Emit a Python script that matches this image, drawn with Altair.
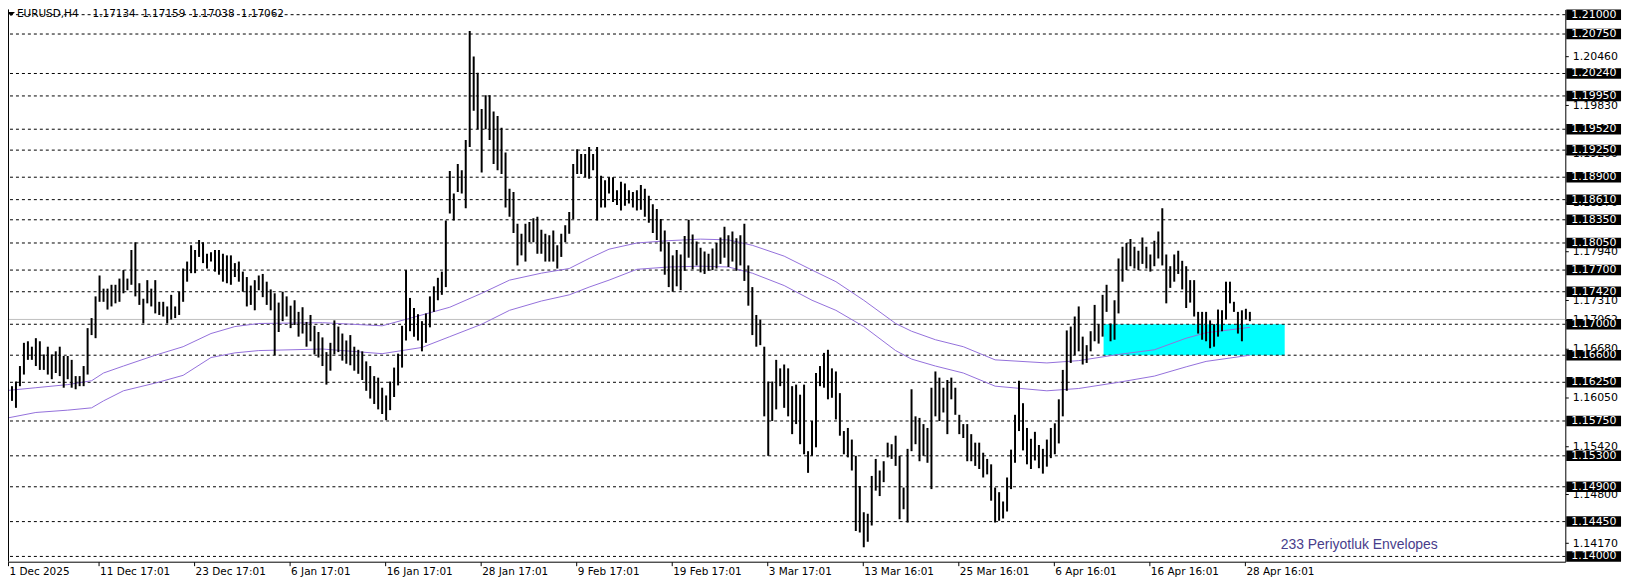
import json
import altair as alt
import pandas as pd

# ---------------- data ----------------
# each entry = one pair of H4 bars (high / low)
highs = [
    1.1646, 1.1618, 1.1620, 1.1626, 1.1646, 1.1676, 1.1678, 1.1671, 1.1682, 1.1678,
    1.1661, 1.1671, 1.1661, 1.1665, 1.1671, 1.1659, 1.1659, 1.1654, 1.1633, 1.1633,
    1.1646, 1.1695, 1.1708, 1.1736, 1.1763, 1.1746, 1.1746, 1.1751, 1.1751, 1.1759,
    1.1770, 1.1759, 1.1796, 1.1806, 1.1753, 1.1733, 1.1757, 1.1746, 1.1757, 1.1729,
    1.1729, 1.1723, 1.1738, 1.1723, 1.1742, 1.1772, 1.1781, 1.1802, 1.1796, 1.1809,
    1.1806, 1.1791, 1.1793, 1.1796, 1.1796, 1.1791, 1.1789, 1.1789, 1.1779, 1.1781,
    1.1768, 1.1761, 1.1750, 1.1757, 1.1763, 1.1765, 1.1755, 1.1745, 1.1740, 1.1728,
    1.1742, 1.1736, 1.1724, 1.1731, 1.1716, 1.1722, 1.1703, 1.1712, 1.1698, 1.1690,
    1.1683, 1.1664, 1.1676, 1.1705, 1.1697, 1.1688, 1.1679, 1.1686, 1.1671, 1.1667,
    1.1665, 1.1652, 1.1646, 1.1633, 1.1631, 1.1618, 1.1608, 1.1626, 1.1644, 1.1662,
    1.1698, 1.1770, 1.1734, 1.1721, 1.1713, 1.1704, 1.1714, 1.1736, 1.1749, 1.1760,
    1.1768, 1.1834, 1.1898, 1.1869, 1.1907, 1.1899, 1.1938, 1.2079, 1.2046, 1.2025,
    1.1978, 1.1996, 1.1996, 1.1975, 1.1969, 1.1954, 1.1922, 1.1875, 1.1871, 1.1830,
    1.1817, 1.1830, 1.1832, 1.1837, 1.1839, 1.1822, 1.1817, 1.1815, 1.1821, 1.1802,
    1.1817, 1.1828, 1.1845, 1.1907, 1.1926, 1.1920, 1.1920, 1.1929, 1.1920, 1.1929,
    1.1892, 1.1886, 1.1890, 1.1890, 1.1873, 1.1884, 1.1882, 1.1873, 1.1871, 1.1873,
    1.1880, 1.1875, 1.1866, 1.1855, 1.1849, 1.1836, 1.1821, 1.1806, 1.1789, 1.1796,
    1.1790, 1.1814, 1.1835, 1.1816, 1.1807, 1.1799, 1.1794, 1.1791, 1.1798, 1.1805,
    1.1812, 1.1826, 1.1815, 1.1820, 1.1811, 1.1815, 1.1830, 1.1776, 1.1748, 1.1712,
    1.1706, 1.1671, 1.1626, 1.1626, 1.1654, 1.1643, 1.1648, 1.1643, 1.1620, 1.1622,
    1.1609, 1.1622, 1.1536, 1.1575, 1.1637, 1.1646, 1.1663, 1.1667, 1.1643, 1.1639,
    1.1611, 1.1562, 1.1566, 1.1551, 1.1530, 1.1491, 1.1457, 1.1455, 1.1504, 1.1526,
    1.1511, 1.1523, 1.1547, 1.1545, 1.1556, 1.1530, 1.1489, 1.1539, 1.1616, 1.1581,
    1.1579, 1.1571, 1.1566, 1.1618, 1.1639, 1.1631, 1.1618, 1.1628, 1.1631, 1.1618,
    1.1583, 1.1571, 1.1571, 1.1558, 1.1547, 1.1547, 1.1534, 1.1526, 1.1519, 1.1489,
    1.1483, 1.1471, 1.1502, 1.1538, 1.1583, 1.1627, 1.1598, 1.1566, 1.1552, 1.1561,
    1.1544, 1.1539, 1.1551, 1.1566, 1.1572, 1.1603, 1.1641, 1.1692, 1.1697, 1.1710,
    1.1723, 1.1684, 1.1673, 1.1691, 1.1725, 1.1700, 1.1738, 1.1751, 1.1701, 1.1731,
    1.1785, 1.1800, 1.1805, 1.1810, 1.1800, 1.1795, 1.1812, 1.1800, 1.1790, 1.1808,
    1.1820, 1.1850, 1.1790, 1.1775, 1.1790, 1.1795, 1.1782, 1.1775, 1.1757, 1.1757,
    1.1716, 1.1716, 1.1716, 1.1705, 1.1700, 1.1719, 1.1718, 1.1755, 1.1755, 1.1729,
    1.1716, 1.1718, 1.1720, 1.1716,
]
lows = [
    1.1607, 1.1603, 1.1601, 1.1592, 1.1620, 1.1635, 1.1654, 1.1654, 1.1646, 1.1641,
    1.1641, 1.1635, 1.1629, 1.1637, 1.1633, 1.1618, 1.1629, 1.1618, 1.1616, 1.1620,
    1.1620, 1.1635, 1.1686, 1.1682, 1.1729, 1.1729, 1.1719, 1.1723, 1.1727, 1.1729,
    1.1740, 1.1744, 1.1751, 1.1736, 1.1725, 1.1701, 1.1727, 1.1723, 1.1714, 1.1712,
    1.1710, 1.1701, 1.1706, 1.1708, 1.1712, 1.1729, 1.1755, 1.1766, 1.1766, 1.1787,
    1.1779, 1.1772, 1.1781, 1.1768, 1.1764, 1.1755, 1.1753, 1.1751, 1.1761, 1.1755,
    1.1742, 1.1723, 1.1725, 1.1718, 1.1744, 1.1735, 1.1725, 1.1718, 1.1660, 1.1690,
    1.1704, 1.1710, 1.1695, 1.1699, 1.1684, 1.1688, 1.1671, 1.1678, 1.1661, 1.1657,
    1.1646, 1.1622, 1.1640, 1.1661, 1.1664, 1.1653, 1.1649, 1.1647, 1.1640, 1.1636,
    1.1628, 1.1614, 1.1604, 1.1597, 1.1590, 1.1584, 1.1576, 1.1589, 1.1606, 1.1621,
    1.1644, 1.1679, 1.1691, 1.1684, 1.1679, 1.1665, 1.1676, 1.1696, 1.1716, 1.1731,
    1.1738, 1.1748, 1.1843, 1.1834, 1.1871, 1.1869, 1.1850, 1.1929, 1.1976, 1.1952,
    1.1896, 1.1952, 1.1938, 1.1907, 1.1899, 1.1894, 1.1851, 1.1839, 1.1818, 1.1776,
    1.1789, 1.1781, 1.1806, 1.1806, 1.1791, 1.1791, 1.1781, 1.1781, 1.1781, 1.1772,
    1.1787, 1.1806, 1.1817, 1.1836, 1.1894, 1.1894, 1.1890, 1.1888, 1.1899, 1.1834,
    1.1851, 1.1851, 1.1869, 1.1858, 1.1854, 1.1847, 1.1853, 1.1856, 1.1851, 1.1847,
    1.1848, 1.1839, 1.1831, 1.1818, 1.1809, 1.1794, 1.1764, 1.1748, 1.1742, 1.1749,
    1.1744, 1.1769, 1.1786, 1.1771, 1.1776, 1.1767, 1.1765, 1.1769, 1.1770, 1.1772,
    1.1778, 1.1786, 1.1774, 1.1781, 1.1769, 1.1776, 1.1756, 1.1724, 1.1686, 1.1671,
    1.1673, 1.1581, 1.1530, 1.1575, 1.1590, 1.1620, 1.1592, 1.1581, 1.1558, 1.1571,
    1.1545, 1.1532, 1.1508, 1.1530, 1.1541, 1.1620, 1.1618, 1.1603, 1.1605, 1.1577,
    1.1556, 1.1532, 1.1528, 1.1511, 1.1433, 1.1431, 1.1412, 1.1419, 1.1440, 1.1485,
    1.1478, 1.1496, 1.1528, 1.1526, 1.1517, 1.1448, 1.1461, 1.1444, 1.1536, 1.1545,
    1.1523, 1.1530, 1.1521, 1.1487, 1.1581, 1.1575, 1.1586, 1.1558, 1.1603, 1.1583,
    1.1558, 1.1553, 1.1523, 1.1523, 1.1517, 1.1513, 1.1502, 1.1506, 1.1472, 1.1444,
    1.1446, 1.1449, 1.1458, 1.1487, 1.1521, 1.1562, 1.1537, 1.1519, 1.1513, 1.1524,
    1.1514, 1.1507, 1.1516, 1.1527, 1.1532, 1.1546, 1.1581, 1.1614, 1.1650, 1.1660,
    1.1665, 1.1648, 1.1650, 1.1665, 1.1678, 1.1675, 1.1684, 1.1716, 1.1678, 1.1680,
    1.1714, 1.1755, 1.1770, 1.1775, 1.1772, 1.1770, 1.1778, 1.1772, 1.1768, 1.1775,
    1.1785, 1.1776, 1.1727, 1.1747, 1.1755, 1.1765, 1.1745, 1.1721, 1.1728, 1.1710,
    1.1688, 1.1680, 1.1678, 1.1669, 1.1671, 1.1684, 1.1691, 1.1706, 1.1727, 1.1716,
    1.1688, 1.1678, 1.1706, 1.1704,
]

# 233-period envelopes (bar index, upper, lower)
env_k = [0, 8, 16, 22, 25, 30, 38, 45, 52, 58, 64, 80, 95, 105, 112, 120, 127, 135, 142, 147,
         152, 159, 167, 175, 182, 188, 196, 203, 209, 216, 224, 228, 234, 241, 249, 262, 270,
         280, 289, 297, 302, 313]
env_up = [1.1614, 1.1618, 1.1622, 1.1627, 1.1637, 1.1646, 1.1660, 1.1671, 1.1688, 1.1697,
          1.1701, 1.1702, 1.1698, 1.1712, 1.1722, 1.1740, 1.1757, 1.1766, 1.1772, 1.1785,
          1.1797, 1.1805, 1.1808, 1.1810, 1.1809, 1.1802, 1.1788, 1.1770, 1.1755, 1.1731,
          1.1701, 1.1691, 1.1680, 1.1671, 1.1654, 1.1650, 1.1653, 1.1661, 1.1667, 1.1682,
          1.1689, 1.1696]
env_lo = [1.1578, 1.1586, 1.1589, 1.1592, 1.1601, 1.1614, 1.1624, 1.1634, 1.1657, 1.1663,
          1.1666, 1.1668, 1.1662, 1.1670, 1.1684, 1.1700, 1.1718, 1.1730, 1.1738, 1.1748,
          1.1757, 1.1771, 1.1774, 1.1775, 1.1774, 1.1766, 1.1750, 1.1731, 1.1718, 1.1697,
          1.1666, 1.1655, 1.1646, 1.1637, 1.1620, 1.1614, 1.1617, 1.1625, 1.1633, 1.1645,
          1.1652, 1.1660]

levels = [1.21000, 1.20750, 1.20240, 1.19950, 1.19520, 1.19250, 1.18900, 1.18610, 1.18350,
          1.18050, 1.17700, 1.17420, 1.17000, 1.16600, 1.16250, 1.15750, 1.15300, 1.14900,
          1.14450, 1.14000]
axis_prices = [1.20460, 1.19830, 1.19200, 1.18570, 1.17940, 1.17310, 1.17062, 1.16680,
               1.16050, 1.15420, 1.14800, 1.14170]
bid_price = 1.17062

date_labels = ["1 Dec 2025", "11 Dec 17:01", "23 Dec 17:01", "6 Jan 17:01", "16 Jan 17:01",
               "28 Jan 17:01", "9 Feb 17:01", "19 Feb 17:01", "3 Mar 17:01", "13 Mar 16:01",
               "25 Mar 16:01", "6 Apr 16:01", "16 Apr 16:01", "28 Apr 16:01"]

zone_k = [276.25, 321.75]
zone_price = [1.1660, 1.1700]

title_parts = ["EURUSD,H4", "1.17134", "1.17159", "1.17038", "1.17062"]
title_k = [3.25, 22.25, 34.7, 47.1, 59.5]
title_price = 1.21008

indicator_label = "233 Periyotluk Envelopes"

# ---------------- chart ----------------
W, H = 1565, 555
FONT = "DejaVu Sans"
x_scale = alt.Scale(domain=[1, 392.25], nice=False, zero=False)
y_scale = alt.Scale(domain=[1.13932, 1.21068], nice=False, zero=False)

date_ticks = [1] + [24 * m - 0.25 for m in range(1, len(date_labels))]
label_expr = json.dumps(date_labels) + "[round((datum.value + 0.25) / 24)]"

x_axis = alt.Axis(values=date_ticks, labelExpr=label_expr, labelAlign="left",
                  labelBaseline="top", labelPadding=1, labelOffset=1, labelFont=FONT,
                  labelFontSize=10.5, labelColor="black", tickSize=4, tickColor="black",
                  domainColor="black", grid=False, labelOverlap=False, labelFlush=False,
                  title=None)
y_axis = alt.Axis(orient="right", values=axis_prices, format=".5f", tickSize=3,
                  labelPadding=4, labelFont=FONT, labelFontSize=11, labelColor="black",
                  tickColor="black", domainColor="black", grid=False, labelOverlap=False,
                  labelFlush=False, title=None)

bars_df = pd.DataFrame({"k": list(range(len(highs))), "low": lows, "high": highs})
env_df = pd.DataFrame({"k": env_k, "up": env_up, "lo": env_lo})
levels_df = pd.DataFrame({"level": levels})
zone_df = pd.DataFrame({"k1": [zone_k[0]], "k2": [zone_k[1]],
                        "p1": [zone_price[0]], "p2": [zone_price[1]]})
title_df = pd.DataFrame({"k": title_k, "p": [title_price] * len(title_parts),
                         "t": title_parts})


def X(f):
    return alt.X(f, type="quantitative", scale=x_scale, axis=x_axis)


def Y(f):
    return alt.Y(f, type="quantitative", scale=y_scale, axis=y_axis)


zone = alt.Chart(zone_df).mark_rect(color="#00FFFF", clip=True).encode(
    x=X("k1"), x2="k2", y=Y("p1"), y2="p2")

level_lines = alt.Chart(levels_df).mark_rule(
    color="black", strokeWidth=1, strokeDash=[3, 3]).encode(y=Y("level"))

bid_line = alt.Chart(pd.DataFrame({"p": [bid_price]})).mark_rule(
    color="#C0C0C0", strokeWidth=1).encode(y=Y("p"))

env_upper = alt.Chart(env_df).mark_line(color="#9370DB", strokeWidth=1, clip=True).encode(
    x=X("k"), y=Y("up"))
env_lower = alt.Chart(env_df).mark_line(color="#9370DB", strokeWidth=1, clip=True).encode(
    x=X("k"), y=Y("lo"))

bars = alt.Chart(bars_df).mark_rule(color="black", strokeWidth=2, clip=True).encode(
    x=X("k"), y=Y("low"), y2="high")

left_border = alt.Chart(pd.DataFrame({"a": [0]})).mark_rule(color="black").encode(
    x=alt.value(0.5), y=alt.value(0), y2=alt.value(H))

title_text = alt.Chart(title_df).mark_text(
    align="left", baseline="middle", font=FONT, fontSize=10.5, color="black").encode(
    x=X("k"), y=Y("p"), text="t:N")

triangle = alt.Chart(pd.DataFrame({"k": [1.75], "p": [1.2101]})).mark_point(
    shape="M-1,-0.5L1,-0.5L0,0.5Z", size=64, filled=True, color="black", opacity=1).encode(
    x=X("k"), y=Y("p"))

indicator = alt.Chart(pd.DataFrame({"k": [320.75], "p": [1.1410], "t": [indicator_label]})).mark_text(
    align="left", baseline="alphabetic", font="Liberation Sans", fontSize=14,
    color="#483D8B").encode(x=X("k"), y=Y("p"), text="t:N")

boxes = alt.Chart(levels_df).transform_calculate(
    lo="datum.level - 0.00068", hi="datum.level + 0.00068").mark_rect(color="black").encode(
    x=alt.value(1566), x2=alt.value(1621), y=Y("lo:Q"), y2="hi:Q")

box_text = alt.Chart(levels_df).mark_text(
    align="left", baseline="middle", font=FONT, fontSize=11, color="white").encode(
    x=alt.value(1571), y=Y("level"), text=alt.Text("level:Q", format=".5f"))

chart = alt.layer(
    zone, level_lines, bid_line, env_upper, env_lower, bars, left_border,
    title_text, triangle, indicator, boxes, box_text
).properties(
    width=W, height=H,
    padding={"left": 0, "top": 0, "right": 63, "bottom": 22},
    autosize=alt.AutoSizeParams(type="none"),
    background="white",
).configure_view(strokeWidth=0)

chart.save("out.html", embed_options={"renderer": "svg", "actions": False})
